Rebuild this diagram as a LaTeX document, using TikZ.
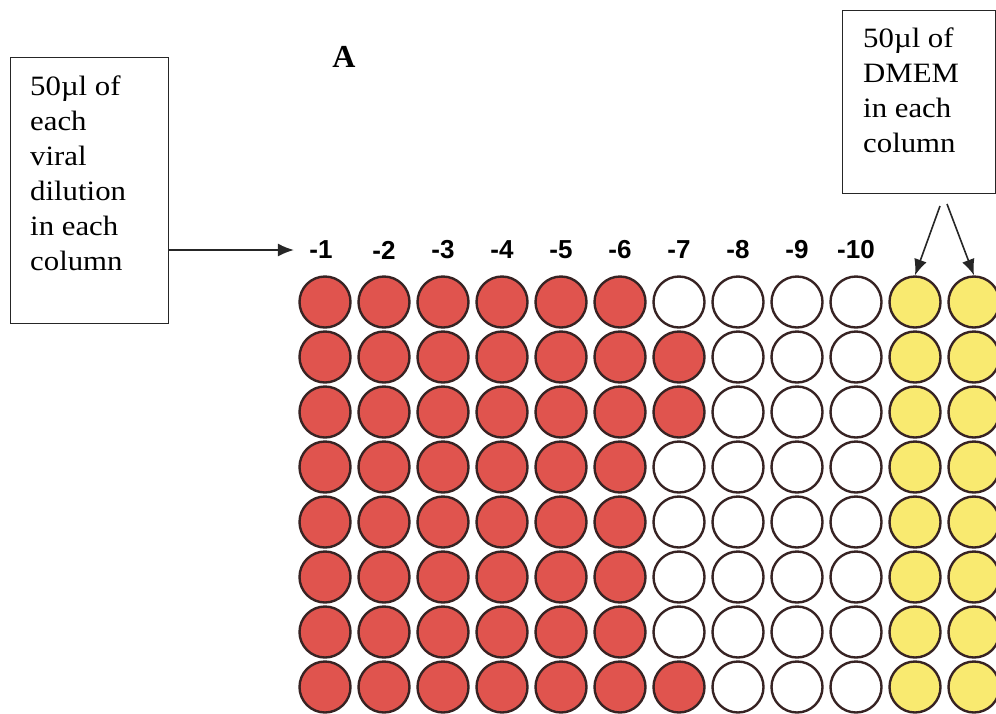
\documentclass[tikz,border=0pt]{standalone}
\usepackage{fontspec}
\setmainfont{Liberation Serif}
\newfontfamily\notefont[FakeStretch=1.1]{Liberation Serif}
\newfontfamily\labelfont{Liberation Sans}
\usetikzlibrary{arrows.meta}
\definecolor{wellred}{RGB}{224,84,78}
\definecolor{wellyellow}{RGB}{249,234,112}
\definecolor{welledge}{RGB}{55,35,35}
\tikzset{
  well/.style={circle,draw=welledge,line width=2.4pt,minimum size=51pt,inner sep=0pt},
  redwell/.style={well,fill=wellred},
  yellowwell/.style={well,fill=wellyellow},
  emptywell/.style={well,fill=white},
  notebox/.style={draw=black!85,line width=1.2pt,rectangle,anchor=north west,inner sep=0pt},
  notetext/.style={align=left,anchor=north west,inner sep=0pt,font=\notefont\fontsize{28}{35}\selectfont},
  dil/.style={font=\labelfont\bfseries\fontsize{26}{26}\selectfont},
  pointer/.style={line width=1.6pt,black!85,-{Latex[length=16pt,width=13pt]}}
}
\begin{document}
\begin{tikzpicture}[x=1pt,y=-1pt]
  \useasboundingbox (0,0) rectangle (996,713);

  \node (plate) [font=\bfseries\fontsize{32}{32}\selectfont] at (344,57) {A};

  \node[notebox,minimum width=158pt,minimum height=266pt] (lbox) at (10,57) {};
  \node[notetext] (ltext) at (30,76)
       {50µl of\\each\\viral\\dilution\\in each\\column};

  \node[notebox,minimum width=153pt,minimum height=183pt] (rbox) at (842,10) {};
  \node[notetext] (rtext) at (863,28)
       {50µl of\\DMEM\\in each\\column};

  % dilution labels
  \node[dil] (d1) at (321,250) {-1};
  \foreach \c in {2,...,10}
    \node[dil] (d\c) at ({325+59*(\c-1)},250) {-\c};

  % wells
  \foreach \c in {1,...,6}
    \foreach \r in {1,...,8}
      \node[redwell] (w\r-\c) at ({325+59*(\c-1)},{302+55*(\r-1)}) {};
  \foreach \r/\s in {1/emptywell,2/redwell,3/redwell,4/emptywell,5/emptywell,
                     6/emptywell,7/emptywell,8/redwell}
    \node[\s] (w\r-7) at (679,{302+55*(\r-1)}) {};
  \foreach \c in {8,9,10}
    \foreach \r in {1,...,8}
      \node[emptywell] (w\r-\c) at ({325+59*(\c-1)},{302+55*(\r-1)}) {};
  \foreach \c in {11,12}
    \foreach \r in {1,...,8}
      \node[yellowwell] (w\r-\c) at ({325+59*(\c-1)},{302+55*(\r-1)}) {};

  \coordinate (rtail1) at (940,206);
  \coordinate (rtail2) at (947,204);

  \draw[pointer] (lbox.east |- d1.west) -- ([xshift=-12pt]d1.west);
  \draw[pointer] (rtail1) -- (w1-11.north);
  \draw[pointer] (rtail2) -- (w1-12.north);
\end{tikzpicture}
\end{document}
